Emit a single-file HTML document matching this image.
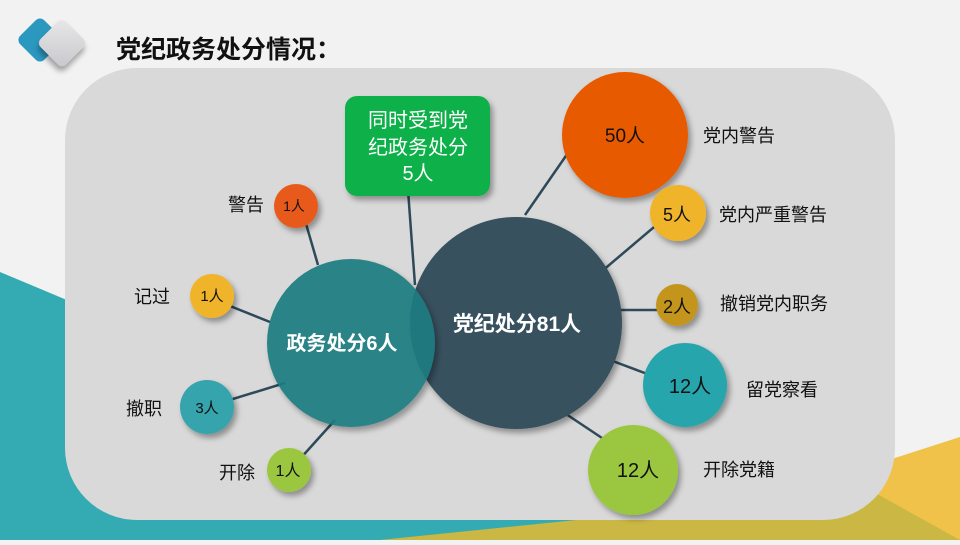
<!DOCTYPE html>
<html><head><meta charset="utf-8"><style>
body{margin:0;width:960px;height:540px;overflow:hidden;background:#f2f2f2;font-family:"Liberation Sans","Noto Sans CJK SC",sans-serif}
</style></head><body>
<svg width="960" height="540" viewBox="0 0 960 540" xmlns="http://www.w3.org/2000/svg" font-family="Liberation Sans, Noto Sans CJK SC, sans-serif">
<defs>
<filter id="sh" x="-30%" y="-30%" width="160%" height="160%"><feDropShadow dx="3" dy="4" stdDeviation="3" flood-color="#000" flood-opacity="0.35"/></filter>
<linearGradient id="g1" x1="0" y1="0" x2="1" y2="1"><stop offset="0" stop-color="#e8e8ea"/><stop offset="1" stop-color="#c8c8cc"/></linearGradient>
</defs>
<rect width="960" height="540" fill="#f2f2f2"/>
<polygon points="0,272 640,540 0,540" fill="#34abb3"/>
<polygon points="640,540 960,437 960,540" fill="#f1c24a"/>
<polygon points="380,540 870,490 960,540" fill="#cbb743"/>
<rect x="65" y="68" width="830" height="452" rx="72" fill="#d9d9d9"/>
<!-- icon -->
<rect x="23" y="23" width="34" height="34" rx="6" fill="#2b98c0" transform="rotate(45 40 40)"/>
<rect x="44" y="25" width="36" height="36" rx="6" fill="url(#g1)" filter="url(#sh)" transform="rotate(45 62 43)"/>
<text x="116" y="58" font-size="25" font-weight="bold" fill="#111">党纪政务处分情况：</text>
<!-- lines -->
<g stroke="#2e4a5a" stroke-width="2.5">
<line x1="302" y1="210" x2="318" y2="265"/>
<line x1="215" y1="300" x2="270" y2="322"/>
<line x1="210" y1="406" x2="285" y2="383"/>
<line x1="290" y1="470" x2="335" y2="420"/>
<line x1="408" y1="190" x2="415" y2="285"/>
<line x1="525" y1="215" x2="570" y2="150"/>
<line x1="595" y1="277" x2="660" y2="222"/>
<line x1="620" y1="310" x2="670" y2="310"/>
<line x1="610" y1="360" x2="650" y2="375"/>
<line x1="560" y1="410" x2="605" y2="440"/>
</g>
<!-- big circles -->
<circle cx="516" cy="323" r="106" fill="#37515f" filter="url(#sh)"/>
<circle cx="351" cy="343" r="84" fill="#1f7c80" opacity="0.92" filter="url(#sh)"/>
<text x="517" y="331" font-size="21" font-weight="bold" fill="#fff" text-anchor="middle">党纪处分81人</text>
<text x="342" y="350" font-size="20" font-weight="bold" fill="#fff" text-anchor="middle">政务处分6人</text>
<!-- green box -->
<rect x="345" y="96" width="145" height="100" rx="12" fill="#0cb04a" filter="url(#sh)"/>
<text font-size="20" fill="#fff" text-anchor="middle"><tspan x="418" y="127">同时受到党</tspan><tspan x="418" y="154">纪政务处分</tspan><tspan x="418" y="180">5人</tspan></text>
<!-- small circles -->
<g filter="url(#sh)">
<circle cx="296" cy="206" r="22" fill="#e85a1c"/>
<circle cx="212" cy="296" r="22" fill="#f0b429"/>
<circle cx="207" cy="407" r="27" fill="#35a4ad"/>
<circle cx="289" cy="470" r="22" fill="#9ac640"/>
<circle cx="625" cy="135" r="63" fill="#e85a04"/>
<circle cx="678" cy="213" r="28" fill="#f0b429"/>
<circle cx="677" cy="305" r="21" fill="#c4951e"/>
<circle cx="685" cy="385" r="42" fill="#26a5ad"/>
<circle cx="633" cy="470" r="45" fill="#9ac640"/>
</g>
<g fill="#111" text-anchor="middle">
<text x="294" y="211" font-size="14">1人</text>
<text x="212" y="301" font-size="15">1人</text>
<text x="207" y="413" font-size="15">3人</text>
<text x="288" y="476" font-size="16">1人</text>
<text x="625" y="142" font-size="19">50人</text>
<text x="677" y="221" font-size="18">5人</text>
<text x="677" y="313" font-size="18">2人</text>
<text x="690" y="393" font-size="20">12人</text>
<text x="638" y="477" font-size="20">12人</text>
</g>
<g font-size="18" fill="#111">
<text x="228" y="211">警告</text>
<text x="134" y="303">记过</text>
<text x="126" y="415">撤职</text>
<text x="219" y="479">开除</text>
<text x="703" y="142">党内警告</text>
<text x="719" y="221">党内严重警告</text>
<text x="720" y="310">撤销党内职务</text>
<text x="746" y="396">留党察看</text>
<text x="703" y="476">开除党籍</text>
</g>
</svg>
</body></html>
